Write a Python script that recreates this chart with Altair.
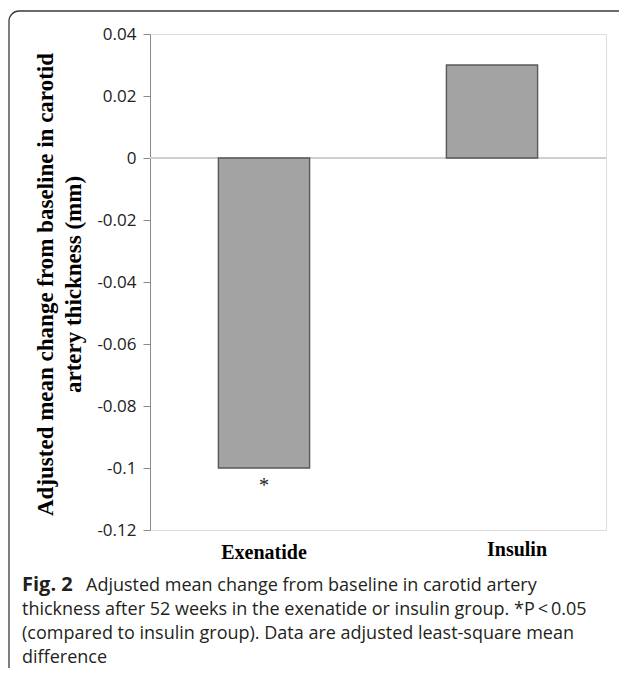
import altair as alt
import pandas as pd

# ---- data ----
categories = ["Exenatide", "Insulin"]
values = [-0.10, 0.03]
marks = ["*", ""]
y_ticks = [0.04, 0.02, 0, -0.02, -0.04, -0.06, -0.08, -0.1, -0.12]
y_title = ["Adjusted mean change from baseline in carotid", "artery thickness (mm)"]
caption_head = "Fig. 2"
caption_line1 = "Adjusted mean change from baseline in carotid artery"
caption_rest = [
    "thickness after 52 weeks in the exenatide or insulin group. *P\u2009<\u20090.05",
    "(compared to insulin group). Data are adjusted least-square mean",
    "difference",
]

df = pd.DataFrame({"group": categories, "value": values, "mark": marks})

W, H = 456, 496
SERIF = "Liberation Serif"
SANS = "Open Sans"

x_enc = alt.X(
    "group:N",
    sort=categories,
    scale=alt.Scale(paddingInner=0.6, paddingOuter=0.3),
    axis=alt.Axis(
        title=None, ticks=False, domain=False, labelAngle=0,
        labelFont=SERIF, labelFontWeight="bold", labelFontSize=20, labelColor="#000000",
        labelOffset={"condition": {"test": "datum.value === 'Insulin'", "value": 25}, "value": 0},
        labelPadding={"condition": {"test": "datum.value === 'Insulin'", "value": 9}, "value": 12},
    ),
)
y_scale = alt.Scale(domain=[-0.12, 0.04], nice=False, zero=False)

bars = alt.Chart(df).mark_bar(
    color="#a3a3a3", stroke="#585858", strokeWidth=1.4
).encode(
    x=x_enc,
    y=alt.Y(
        "value:Q", scale=y_scale,
        axis=alt.Axis(
            values=y_ticks, grid=False, domain=True, domainColor="#8a8a8a",
            tickColor="#8a8a8a", tickSize=7, labelPadding=7,
            labelFont=SANS, labelFontSize=17, labelColor="#222222",
            labelExpr="replace(format(datum.value, '~g'), '\u2212', '-')",
            title=y_title, titleFont=SERIF, titleFontWeight="bold", titleFontSize=23,
            titleColor="#000000", titleAngle=-90, titleX=-98, titleY=H / 2 + 2,
            titleAlign="center", titleBaseline="alphabetic", titleLineHeight=28,
        ),
    ),
    y2=alt.datum(0),
)

zero_line = alt.Chart(df).mark_rule(color="#cfcfcf", strokeWidth=2).encode(
    y=alt.datum(0)
)

star = alt.Chart(df).mark_text(
    font=SERIF, fontSize=20, color="#222222", baseline="alphabetic", dy=24
).encode(x=alt.X("group:N", sort=categories), y=alt.Y("value:Q", scale=y_scale), text="mark:N")

one = alt.Data(values=[{"k": 1}])

frame = alt.Chart(one).mark_rect(
    fillOpacity=0, stroke="#3a3a3a", strokeWidth=1.3, cornerRadius=10
).encode(
    x=alt.value(-141), x2=alt.value(640), y=alt.value(-23), y2=alt.value(760)
)

cap_head = alt.Chart(one).mark_text(
    font=SANS, fontSize=20, fontWeight="bold", color="#231f20", align="left",
    baseline="alphabetic"
).encode(x=alt.value(-128), y=alt.value(557), text=alt.value(caption_head))

cap_l1 = alt.Chart(one).mark_text(
    font=SANS, fontSize=18, color="#231f20", align="left", baseline="alphabetic"
).encode(x=alt.value(-64), y=alt.value(557), text=alt.value(caption_line1))

cap_rest = alt.Chart(one).mark_text(
    font=SANS, fontSize=18, color="#231f20", align="left", baseline="alphabetic",
    lineHeight=24
).encode(x=alt.value(-128), y=alt.value(581), text=alt.value(caption_rest))

chart = alt.layer(
    zero_line, bars, star, frame, cap_head, cap_l1, cap_rest
).properties(
    width=W, height=H,
    autosize="none",
    padding={"left": 142, "top": 26, "right": 13, "bottom": 138},
).configure_view(
    stroke="#8c8c8c", strokeWidth=1.4
).configure(background="white")

chart.save("out.html", embed_options={"renderer": "svg", "actions": False})
